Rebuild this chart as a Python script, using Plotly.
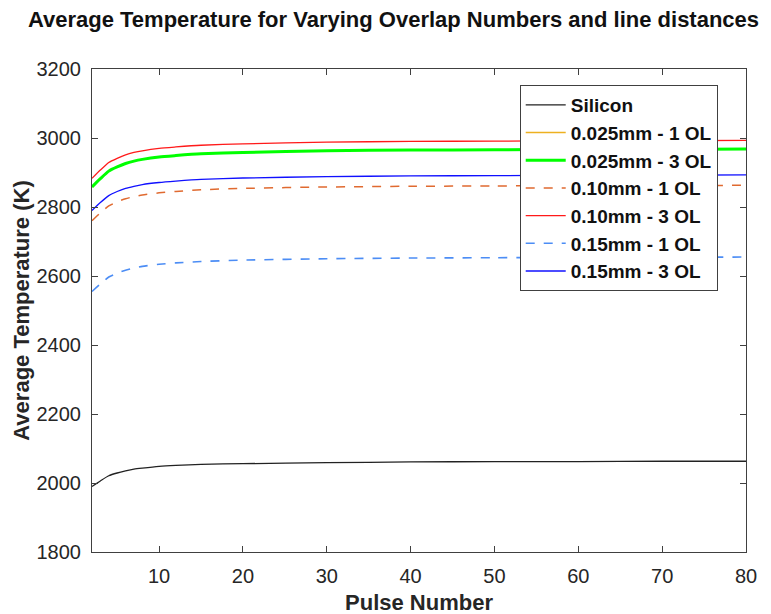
import plotly.graph_objects as go

pulses = [2, 3, 4, 5, 6, 7, 8, 10, 12, 15, 20, 30, 40, 50, 60, 70, 80]

silicon = [1990, 2006, 2021, 2029, 2035, 2040, 2043, 2048, 2051, 2054, 2056, 2059, 2061, 2062, 2062, 2063, 2063]
d025_1 = [2858, 2882, 2904, 2916, 2926, 2933, 2938, 2945, 2949, 2954, 2958, 2963, 2965, 2966, 2967, 2967, 2968]
d025_3 = [2858, 2882, 2904, 2916, 2926, 2933, 2938, 2945, 2949, 2954, 2958, 2963, 2965, 2966, 2967, 2967, 2968]
d10_1 = [2760, 2783, 2803, 2815, 2824, 2830, 2835, 2841, 2845, 2850, 2854, 2858, 2860, 2861, 2862, 2862, 2863]
d10_3 = [2883, 2907, 2929, 2941, 2951, 2958, 2963, 2970, 2974, 2979, 2983, 2988, 2990, 2991, 2992, 2992, 2993]
d15_1 = [2555, 2577, 2597, 2608, 2617, 2623, 2628, 2634, 2638, 2642, 2646, 2650, 2652, 2653, 2654, 2654, 2655]
d15_3 = [2790, 2813, 2833, 2845, 2854, 2860, 2865, 2871, 2875, 2880, 2884, 2888, 2890, 2891, 2892, 2892, 2893]

names = ["Silicon", "0.025mm - 1 OL", "0.025mm - 3 OL", "0.10mm - 1 OL",
         "0.10mm - 3 OL", "0.15mm - 1 OL", "0.15mm - 3 OL"]
series = [silicon, d025_1, d025_3, d10_1, d10_3, d15_1, d15_3]
colors = ["#222222", "#EDB120", "#00FF00", "#E06A30", "#FF1A1A", "#4C8DF5", "#1010FF"]
widths = [1.3, 1.3, 3, 1.5, 1.3, 1.6, 1.3]
dashes = ["solid", "solid", "solid", "dash", "solid", "dash", "solid"]

FONT = "Liberation Sans, Arial"

fig = go.Figure()
for n, s, c, w, d in zip(names, series, colors, widths, dashes):
    fig.add_trace(go.Scatter(x=pulses, y=s, name=n, mode="lines",
                             line=dict(color=c, width=w, dash=d, shape="spline", smoothing=0.6)))

axis_common = dict(showline=True, linecolor="#404040", linewidth=1, mirror="ticks",
                   ticks="inside", ticklen=6, tickcolor="#404040", showgrid=False,
                   zeroline=False, tickfont=dict(family=FONT, size=20, color="#262626"))

fig.update_layout(
    width=771, height=614,
    margin=dict(l=84, r=33, t=61, b=67),
    paper_bgcolor="white", plot_bgcolor="white",
    title=dict(text="<b>Average Temperature for Varying Overlap Numbers and line distances</b>",
               x=0.5, xanchor="center", y=0.982, yanchor="middle",
               font=dict(family=FONT, size=22, color="#111111")),
    xaxis=dict(range=[2, 80], tickvals=[10, 20, 30, 40, 50, 60, 70, 80],
               ticklabelstandoff=6,
               title=dict(text="<b>Pulse Number</b>", standoff=8,
                          font=dict(family=FONT, size=22, color="#262626")),
               **axis_common),
    yaxis=dict(range=[1800, 3200], tickvals=list(range(1800, 3201, 200)),
               ticklabelstandoff=6,
               title=dict(text="<b>Average Temperature (K)</b>", standoff=0,
                          font=dict(family=FONT, size=22, color="#262626")),
               **axis_common),
    legend=dict(x=0.654, y=0.967, xanchor="left", yanchor="top",
                bgcolor="white", bordercolor="#404040", borderwidth=1,
                font=dict(family=FONT, size=19, color="#111111", weight="bold"),
                tracegroupgap=0, itemwidth=40),
    showlegend=True,
)

fig.write_html("out.html")
